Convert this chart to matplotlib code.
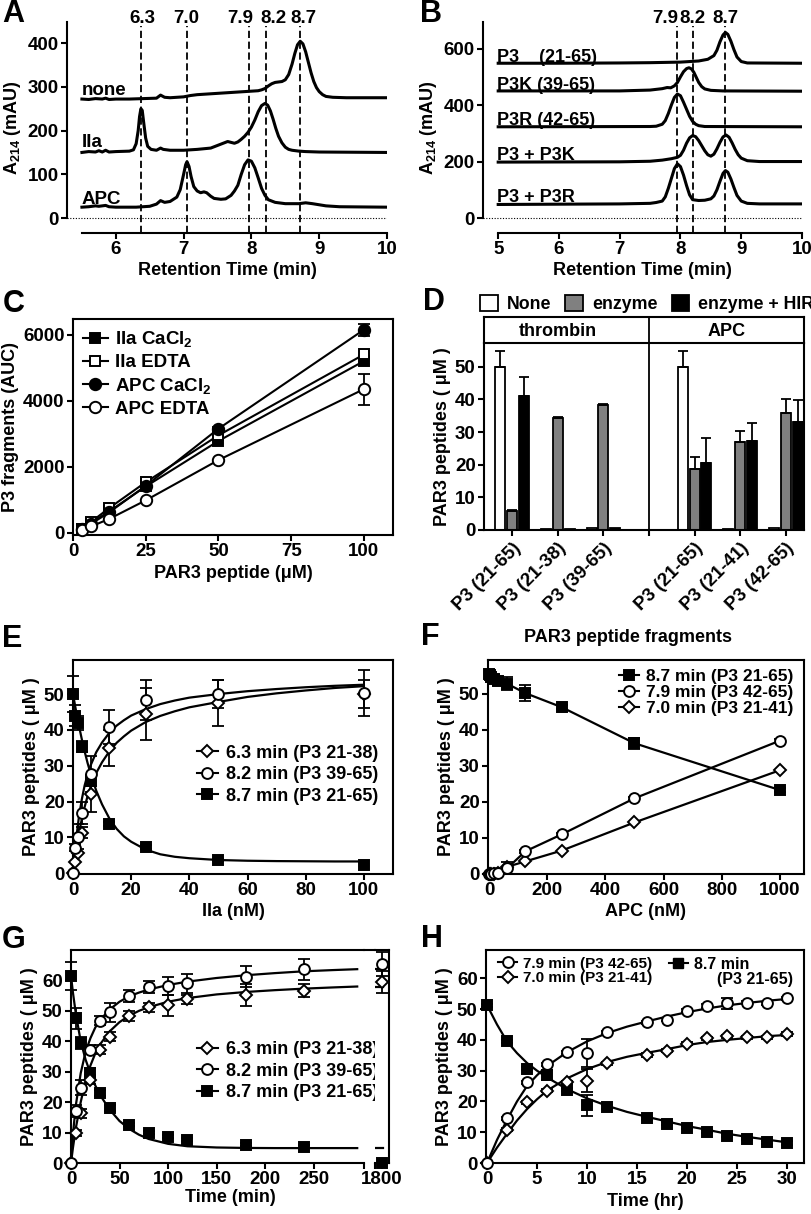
import matplotlib
matplotlib.use('Agg')
import matplotlib.pyplot as plt
from matplotlib.lines import Line2D
from matplotlib.patches import Patch
import numpy as np

plt.rcParams['font.family'] = ['Liberation Sans', 'DejaVu Sans']
plt.rcParams['font.weight'] = 'bold'
plt.rcParams['axes.labelweight'] = 'bold'
plt.rcParams['mathtext.fontset'] = 'custom'
plt.rcParams['mathtext.rm'] = 'Liberation Sans:bold'
plt.rcParams['mathtext.bf'] = 'Liberation Sans:bold'
plt.rcParams['mathtext.it'] = 'Liberation Sans:bold'
plt.rcParams['font.size'] = 12
plt.rcParams['axes.labelsize'] = 13
plt.rcParams['xtick.labelsize'] = 13.5
plt.rcParams['ytick.labelsize'] = 13.5
plt.rcParams['axes.linewidth'] = 1.5
plt.rcParams['xtick.major.width'] = 1.5
plt.rcParams['ytick.major.width'] = 1.5
plt.rcParams['xtick.major.size'] = 4
plt.rcParams['ytick.major.size'] = 4
plt.rcParams['xtick.major.pad'] = 2
plt.rcParams['ytick.major.pad'] = 2
plt.rcParams['axes.labelpad'] = 3

# ---------------- data ----------------
# A: HPLC traces (retention time min, A214 mAU)
a_none = [(5.5,272),(5.6,271),(5.7,273),(5.8,272),(5.85,274),(5.9,271),(6.0,272),(6.2,272),(6.4,273),
          (6.6,274),(6.66,281),(6.72,276),(6.8,275),(7.0,277),(7.1,280),(7.2,282),(7.4,284),(7.6,286),
          (7.8,288),(8.0,290),(8.1,291),(8.15,293),(8.2,296),(8.25,302),(8.3,307),(8.35,310),(8.4,311),
          (8.45,312),(8.5,316),(8.55,328),(8.6,352),(8.64,376),(8.68,396),(8.72,404),(8.76,398),(8.8,380),
          (8.84,356),(8.88,332),(8.92,312),(8.96,298),(9.0,289),(9.05,282),(9.1,278),(9.2,276),(9.4,275),(10.0,275)]
a_iia = [(5.5,150),(5.6,152),(5.7,151),(5.75,154),(5.8,151),(5.85,155),(5.9,151),(6.0,152),(6.2,153),
         (6.26,156),(6.3,170),(6.33,200),(6.35,232),(6.37,250),(6.39,246),(6.41,220),(6.44,183),(6.47,164),
         (6.52,157),(6.6,155),(6.66,160),(6.7,157),(6.8,155),(7.0,155),(7.2,157),(7.4,160),(7.5,166),
         (7.6,172),(7.65,175),(7.7,173),(7.75,171),(7.8,174),(7.85,180),(7.9,187),(7.95,196),(8.0,208),
         (8.05,224),(8.1,243),(8.15,257),(8.2,262),(8.24,258),(8.28,245),(8.32,226),(8.36,205),(8.4,187),
         (8.45,172),(8.5,162),(8.55,157),(8.6,155),(8.7,153),(8.8,152),(9.0,151),(10.0,150)]
a_apc = [(5.5,25),(5.6,26),(5.7,28),(5.75,27),(5.85,29),(5.9,26),(6.0,25),(6.3,25),(6.5,27),(6.6,32),
         (6.66,40),(6.72,36),(6.8,38),(6.9,48),(6.95,65),(7.0,100),(7.03,122),(7.05,129),(7.08,118),
         (7.11,95),(7.15,72),(7.2,62),(7.25,58),(7.3,60),(7.34,58),(7.4,50),(7.45,45),(7.55,43),(7.62,44),
         (7.7,52),(7.75,62),(7.8,75),(7.85,100),(7.9,122),(7.95,133),(8.0,130),(8.05,115),(8.1,92),
         (8.15,68),(8.2,52),(8.25,42),(8.35,36),(8.5,33),(8.7,33),(8.8,35),(8.9,33),(9.1,28),(9.3,26),(10.0,25)]
a_peaks = [6.37, 7.05, 7.96, 8.22, 8.72]
a_peak_labels = ['6.3', '7.0', '7.9', '8.2', '8.7']

# B: reference peptide traces
b_p3 = [(5.0,548),(6.0,548),(7.0,549),(7.5,550),(8.0,552),(8.3,556),(8.45,562),(8.55,575),(8.6,594),
        (8.65,624),(8.7,648),(8.74,657),(8.78,650),(8.83,626),(8.88,596),(8.93,570),(9.0,554),(9.1,549),(10.0,548)]
b_p3k = [(5.0,450),(7.0,450),(7.5,453),(7.7,458),(7.78,462),(7.84,461),(7.9,468),(7.95,480),(8.0,500),
         (8.05,518),(8.1,529),(8.14,532),(8.18,528),(8.22,516),(8.26,498),(8.3,480),(8.35,465),(8.4,457),
         (8.5,452),(8.7,450),(10.0,449)]
b_p3r = [(5.0,323),(7.5,324),(7.6,325),(7.7,332),(7.75,345),(7.8,370),(7.85,400),(7.9,427),(7.95,439),
         (8.0,433),(8.05,410),(8.1,385),(8.15,360),(8.2,342),(8.25,332),(8.3,327),(8.4,324),(10.0,323)]
b_mix_k = [(5.0,198),(7.0,199),(7.5,201),(7.7,205),(7.85,210),(7.95,215),(8.0,222),(8.05,240),(8.1,265),
           (8.15,284),(8.2,292),(8.25,288),(8.3,274),(8.35,256),(8.4,238),(8.45,224),(8.5,219),(8.55,226),
           (8.6,245),(8.65,268),(8.7,287),(8.75,294),(8.8,286),(8.85,266),(8.9,243),(8.95,224),(9.0,212),
           (9.1,203),(9.3,200),(10.0,200)]
b_mix_r = [(5.0,48),(7.0,50),(7.5,52),(7.6,55),(7.7,60),(7.75,75),(7.8,105),(7.85,140),(7.9,175),
           (7.95,192),(8.0,182),(8.05,152),(8.1,115),(8.15,82),(8.2,65),(8.3,62),(8.4,63),(8.5,68),
           (8.55,78),(8.6,100),(8.65,130),(8.7,158),(8.74,168),(8.78,162),(8.83,138),(8.88,108),(8.93,80),
           (9.0,60),(9.1,52),(9.3,50),(10.0,50)]
b_peaks = [7.95, 8.20, 8.74]
b_peak_labels = ['7.9', '8.2', '8.7']

# C: AUC vs peptide concentration
c_x = [3.125, 6.25, 12.5, 25, 50, 100]
c_iia_ca = [120, 300, 650, 1400, 2780, 5200]
c_iia_edta = [110, 330, 750, 1530, 2950, 5400]
c_apc_ca = [100, 270, 620, 1420, 3150, 6150]
c_apc_ca_err = [0, 0, 0, 0, 60, 180]
c_apc_edta = [80, 190, 420, 980, 2200, 4350]
c_apc_edta_err = [0, 0, 0, 0, 0, 470]

# D: bars
d_labels = ['P3 (21-65)', 'P3 (21-38)', 'P3 (39-65)', 'P3 (21-65)', 'P3 (21-41)', 'P3 (42-65)']
d_none = [50, 0.4, 0.5, 50, 0.3, 0.6]
d_none_err = [5, 0, 0, 5, 0, 0]
d_enz = [5.8, 34.3, 38.3, 18.8, 27.0, 35.7]
d_enz_err = [0.3, 0.3, 0.4, 3.5, 3.2, 4.5]
d_hir = [41, 0.4, 0.5, 20.6, 27.4, 33.2]
d_hir_err = [6, 0, 0, 7.6, 5.3, 6.5]

# E: IIa titration
e_x = [0, 0.78, 1.56, 3.125, 6.25, 12.5, 25, 50, 100]
e_dia = [0, 3.2, 5.6, 11.3, 22, 35, 44.5, 47.5, 50]
e_dia_err = [0, 0, 0, 1.5, 5, 5, 7.3, 6.4, 4]
e_cir = [0, 7.1, 10.2, 16.8, 27.8, 40.8, 48.3, 50, 50.2]
e_cir_err = [0, 1, 3.5, 3, 5, 4.7, 5.6, 3.9, 6.4]
e_sq = [50, 44, 42, 35.3, 25.8, 13.7, 7.3, 3.7, 2.3]
e_sq_err = [5, 3, 2, 1.5, 1.5, 0.5, 0.5, 0.3, 0]
e_fit_x = [0, 1, 2, 3, 4, 5, 6, 8, 10, 12.5, 15, 17.5, 20, 25, 30, 35, 40, 50, 60, 70, 80, 90, 100]
e_fit_cir = [0, 9, 15.5, 20.5, 24.5, 27.5, 30, 33.8, 36.5, 39.2, 41.2, 42.7, 44, 45.8, 47.2, 48.2, 49,
             50, 50.8, 51.4, 51.9, 52.3, 52.6]
e_fit_dia = [0, 6, 11, 15, 18.5, 21.5, 24, 28, 31, 34, 36.4, 38.2, 39.8, 42.2, 43.9, 45.2, 46.3,
             47.8, 49.2, 50.2, 51.0, 51.7, 52.2]
e_fit_sq = [50, 45.5, 41.3, 37.5, 34, 30.8, 28, 23, 19.2, 15.3, 12.4, 10.3, 8.8, 6.6, 5.3, 4.6, 4.2,
            3.7, 3.5, 3.4, 3.35, 3.3, 3.3]

# F: APC titration
f_x = [0, 3.9, 7.8, 15.6, 31.25, 62.5, 125, 250, 500, 1000]
f_sq = [55.5, 55.2, 54.8, 54.2, 53.5, 52.8, 50.2, 46.3, 36.3, 23.3]
f_sq_err = [0, 0.8, 0.8, 1, 1, 1.8, 2.2, 0.5, 1.5, 0.5]
f_cir = [0, 0, 0, 0.2, 0.3, 1.6, 6.3, 11, 21, 37]
f_cir_err = [0, 0, 0, 0, 0.5, 1.7, 0.5, 0.5, 0.5, 0.5]
f_dia = [0, 0, 0, 0.1, 0.4, 2, 3.5, 6.5, 14.3, 28.8]
f_dia_err = [0, 0, 0, 0, 0, 0, 0, 0, 0, 0]

# G: IIa time course (min)
g_t = [0, 5, 10, 20, 30, 40, 60, 80, 100, 120, 180, 240]
g_dia = [0, 9.8, 16.4, 27.3, 37.2, 41.5, 48.3, 51.2, 51.8, 53.8, 55.2, 56.6]
g_dia_err = [0, 1, 1.5, 1.5, 1.5, 1.5, 1.5, 1.5, 3.5, 1.5, 3.5, 2.2]
g_cir = [0, 17, 24.7, 37.2, 46.8, 49.5, 55, 57.8, 58.2, 59, 61.2, 63.6]
g_cir_err = [0, 2, 2.5, 1.5, 1.5, 3, 2, 2, 3, 3, 3.5, 3.5]
g_sq = [61.5, 47.5, 39.5, 29.6, 23, 18.1, 12.6, 9.9, 8.6, 7.7, 6.0, 5.3]
g_sq_err = [4.5, 3.5, 2, 1.5, 1, 1, 0.5, 0.5, 0.5, 0.5, 0.5, 0.5]
g_end_t = [1800]
g_end_dia = [59.5]
g_end_dia_err = [3.5]
g_end_cir = [65.5]
g_end_cir_err = [4]
g_end_sq = [0]
g_fit_t = [0, 2, 5, 10, 15, 20, 25, 30, 40, 50, 60, 70, 80, 100, 120, 150, 180, 210, 240, 270, 295]
g_fit_cir = [0, 9.5, 19, 29.5, 36.5, 41, 44.5, 47, 50.5, 53, 54.8, 56, 57, 58.5, 59.6, 60.8, 61.7,
             62.4, 63, 63.4, 63.7]
g_fit_dia = [0, 5, 11.5, 20, 27, 32, 36, 39, 43.3, 46.3, 48.4, 50, 51.2, 53, 54.2, 55.4, 56.2, 56.8,
             57.3, 57.7, 58]
g_fit_sq = [61.5, 56, 49, 40, 34, 29.5, 25.5, 22.3, 17.5, 13.8, 11.2, 9.3, 7.9, 6.3, 5.5, 5.1, 4.95,
            4.9, 4.9, 4.9, 4.9]

# H: APC time course (hr)
h_t = [0, 2, 4, 6, 8, 10, 12, 16, 18, 20, 22, 24, 26, 28, 30]
h_cir = [0, 14.6, 26.2, 32.1, 35.9, 35.7, 42.4, 45.7, 46.5, 49.5, 51.0, 51.9, 52.1, 51.9, 53.5]
h_cir_err = [0, 0.5, 0.5, 0.5, 0.5, 4.5, 0.5, 0.5, 0.5, 0.5, 0.5, 1.8, 0.5, 0.5, 0.5]
h_dia = [0, 10.8, 19.8, 23.5, 26.3, 26.8, 32.4, 35.1, 36.5, 38.7, 40.5, 41.1, 40.8, 40.8, 41.9]
h_dia_err = [0, 0.5, 0.5, 0.5, 0.5, 3.8, 0.5, 0.5, 0.5, 0.5, 0.5, 0.5, 0.5, 0.5, 0.5]
h_sq = [51.3, 39.5, 30.6, 28.6, 23.8, 18.7, 18.2, 14.6, 12.8, 11.4, 10.1, 8.9, 7.9, 6.8, 6.5]
h_sq_err = [0.5, 0.5, 0.5, 1.5, 0.5, 3.3, 0.5, 0.5, 0.5, 0.5, 0.5, 0.5, 0.5, 0.5, 0.5]
h_fit_t = [0, 1, 2, 3, 4, 5, 6, 8, 10, 12, 14, 16, 18, 20, 22, 24, 26, 28, 30]
h_fit_cir = [0, 7.5, 14, 20, 25, 28.5, 31.5, 36, 39.5, 42.2, 44.3, 46, 47.6, 49, 50.2, 51.2, 52, 52.7, 53.3]
h_fit_dia = [0, 5, 9.5, 13.8, 17.5, 20.7, 23.5, 27.5, 30.5, 32.8, 34.5, 35.8, 37, 38.3, 39.3, 40,
             40.6, 41.2, 41.6]
h_fit_sq = [51.3, 45, 39.5, 35.7, 32.5, 30, 27.8, 24, 21, 18.6, 16.6, 15, 13.5, 12, 10.8, 9.5, 8.5, 7.6, 6.7]

# ---------------- figure ----------------
W, H = 812, 1214
fig = plt.figure(figsize=(W / 100, H / 100), dpi=100)


def px_axes(l, t, r, b):
    return fig.add_axes([l / W, 1 - b / H, (r - l) / W, (b - t) / H])


def letter(x, y, s):
    fig.text(x / W, 1 - y / H, s, fontsize=22, fontweight='bold', va='baseline', ha='left')


def points(ax, x, y, err, marker, face, ms):
    x = np.asarray(x, float)
    y = np.asarray(y, float)
    err = np.asarray(err, float)
    m = err > 0
    if m.any():
        ax.errorbar(x[m], y[m], yerr=err[m], fmt='none', ecolor='k', elinewidth=1.3,
                    capsize=4, capthick=1.3, clip_on=False, zorder=3)
    ax.plot(x, y, ls='none', marker=marker, mfc=face, mec='k', mew=1.4, ms=ms,
            clip_on=False, zorder=4)


MS = {'o': 7.8, 's': 7.4, 'D': 5.8}

# ---- A ----
ax = px_axes(67, 22, 387, 233)
ax.set_xlim(5.28, 10)
ax.set_ylim(-34, 448)
for tr in (a_none, a_iia, a_apc):
    t, a = zip(*tr)
    ax.plot(t, a, color='k', lw=2.2)
ax.axhline(0, color='k', lw=0.8, ls=(0, (1, 1.5)), xmin=0)
ax.vlines(a_peaks, -34, 440, colors='k', linestyles=(0, (4, 2)), lw=1.3)
a_lab_x = [6.39, 7.04, 7.83, 8.32, 8.77]
for xx, s in zip(a_lab_x, a_peak_labels):
    ax.text(xx, 446, s, ha='center', va='baseline', fontsize=13.5, clip_on=False)
ax.text(5.5, 281, 'none', fontsize=13.5, va='baseline')
ax.text(5.5, 163, 'IIa', fontsize=13.5, va='baseline')
ax.text(5.5, 33, 'APC', fontsize=13.5, va='baseline')
ax.spines[['top', 'right']].set_visible(False)
ax.spines['bottom'].set_bounds(5.5, 10)
ax.spines['left'].set_bounds(0, 448)
ax.set_xticks([6, 7, 8, 9, 10])
ax.set_yticks([0, 100, 200, 300, 400])
ax.set_xlabel('Retention Time (min)')
ax.set_ylabel('A$_{214}$ (mAU)')
letter(2, 22, 'A')

# ---- B ----
ax = px_axes(483, 22, 802, 233)
ax.set_xlim(4.75, 10)
ax.set_ylim(-53, 694)
for tr in (b_p3, b_p3k, b_p3r, b_mix_k, b_mix_r):
    t, a = zip(*tr)
    ax.plot(t, a, color='k', lw=2.2)
ax.axhline(0, color='k', lw=0.8, ls=(0, (1, 1.5)))
ax.vlines(b_peaks, -53, 680, colors='k', linestyles=(0, (4, 2)), lw=1.3)
b_lab_x = [7.75, 8.2, 8.74]
for xx, s in zip(b_lab_x, b_peak_labels):
    ax.text(xx, 692, s, ha='center', va='baseline', fontsize=13.5, clip_on=False)
ax.text(4.98, 553, 'P3    (21-65)', fontsize=13, va='baseline')
ax.text(4.98, 455, 'P3K (39-65)', fontsize=13, va='baseline')
ax.text(4.98, 328, 'P3R (42-65)', fontsize=13, va='baseline')
ax.text(4.98, 204, 'P3 + P3K', fontsize=13, va='baseline')
ax.text(4.98, 55, 'P3 + P3R', fontsize=13, va='baseline')
ax.spines[['top', 'right']].set_visible(False)
ax.spines['bottom'].set_bounds(5, 10)
ax.spines['left'].set_bounds(0, 694)
ax.set_xticks([5, 6, 7, 8, 9, 10])
ax.set_yticks([0, 200, 400, 600])
ax.set_xlabel('Retention Time (min)')
ax.set_ylabel('A$_{214}$ (mAU)')
letter(420, 22, 'B')

# ---- C ----
ax = px_axes(73, 319, 393, 535)
ax.set_xlim(0, 110)
ax.set_ylim(-70, 6475)
series_c = [(c_iia_ca, [0] * 6, 's', 'k', 'IIa CaCl$_2$'),
            (c_iia_edta, [0] * 6, 's', 'w', 'IIa EDTA'),
            (c_apc_ca, c_apc_ca_err, 'o', 'k', 'APC CaCl$_2$'),
            (c_apc_edta, c_apc_edta_err, 'o', 'w', 'APC EDTA')]
handles = []
for yv, er, mk, fc, lab in series_c:
    ax.plot(c_x, yv, color='k', lw=1.5, zorder=2)
    points(ax, c_x, yv, er, mk, fc, 8.2 if mk == 'o' else 7.8)
    handles.append(Line2D([], [], color='k', lw=1.5, marker=mk, mfc=fc, mec='k', mew=1.4,
                          ms=8.2 if mk == 'o' else 7.8))
ax.legend(handles, [s[4] for s in series_c], loc='upper left', frameon=False, fontsize=13.5,
          handlelength=1.3, handletextpad=0.4, labelspacing=0.25, borderaxespad=0.15,
          bbox_to_anchor=(0.0, 1.0))
ax.set_xticks([0, 25, 50, 75, 100])
ax.set_yticks([0, 2000, 4000, 6000])
ax.set_xlabel('PAR3 peptide (\u03bcM)')
ax.set_ylabel('P3 fragments (AUC)')
letter(3, 312, 'C')

# ---- D ----
ax = px_axes(484, 343, 804, 530)
hd = px_axes(484, 317, 804, 343)
pos = np.array([0, 1, 2, 4, 5, 6])
bw, off = 0.22, 0.26
for vals, errs, col, dx in ((d_none, d_none_err, 'white', -off),
                             (d_enz, d_enz_err, '#808080', 0.0),
                             (d_hir, d_hir_err, 'black', off)):
    ax.bar(pos + dx, vals, width=bw, color=col, edgecolor='k', lw=1.3, zorder=2)
    e = np.array(errs, float)
    m = e > 0
    ax.errorbar((pos + dx)[m], np.array(vals)[m], yerr=[np.zeros(m.sum()), e[m]], fmt='none',
                ecolor='k', elinewidth=1.3, capsize=3.5, capthick=1.3, zorder=3)
ax.set_xlim(-0.62, 6.4)
ax.set_ylim(0, 57.3)
ax.axvline(3, color='k', lw=1.3)
ax.set_xticks([0, 1, 2, 3, 4, 5, 6])
ax.set_xticklabels(d_labels[:3] + [''] + d_labels[3:], rotation=45, ha='right',
                   rotation_mode='anchor', fontsize=13.5)
ax.tick_params(axis='x', pad=3)
ax.set_yticks([0, 10, 20, 30, 40, 50])
ax.spines['top'].set_visible(False)
ax.set_ylabel('PAR3 peptides ( \u03bcM )')
hd.set_xlim(-0.62, 6.4)
hd.set_ylim(0, 1)
hd.axvline(3, color='k', lw=1.3)
hd.set_xticks([])
hd.set_yticks([])
hd.text(1.0, 0.45, 'thrombin', ha='center', va='center', fontsize=13)
hd.text(4.7, 0.45, 'APC', ha='center', va='center', fontsize=13)
d_handles = [Patch(facecolor=c, edgecolor='k', lw=1.3) for c in ('white', '#808080', 'black')]
fig.legend(d_handles, ['None', 'enzyme', 'enzyme + HIR'], loc='center',
           bbox_to_anchor=(647 / W, 1 - 304 / H), ncol=3, frameon=False, fontsize=12.8,
           handlelength=1.0, handleheight=1.0, handletextpad=0.5, columnspacing=0.8)
letter(423, 310, 'D')

# ---- E ----
ax = px_axes(73, 660, 393, 874)
ax.set_xlim(0, 110)
ax.set_ylim(-0.2, 59.5)
ax.plot(e_fit_x, e_fit_cir, color='k', lw=1.6, zorder=2)
ax.plot(e_fit_x, e_fit_dia, color='k', lw=1.6, zorder=2)
ax.plot(e_fit_x, e_fit_sq, color='k', lw=1.6, zorder=2)
points(ax, e_x, e_sq, e_sq_err, 's', 'k', MS['s'])
points(ax, e_x, e_dia, e_dia_err, 'D', 'w', MS['D'])
points(ax, e_x, e_cir, e_cir_err, 'o', 'w', MS['o'])
leg_lab = ['6.3 min (P3 21-38)', '8.2 min (P3 39-65)', '8.7 min (P3 21-65)']
leg_h = [Line2D([], [], color='k', lw=1.5, marker=m, mfc=f, mec='k', mew=1.4, ms=MS[m])
         for m, f in (('D', 'w'), ('o', 'w'), ('s', 'k'))]
ax.legend(leg_h, leg_lab, loc='lower right', bbox_to_anchor=(0.975, 0.29), frameon=False,
          fontsize=13, handlelength=1.2, handletextpad=0.4, labelspacing=0.25, borderaxespad=0)
ax.set_xticks([0, 20, 40, 60, 80, 100])
ax.set_yticks([0, 10, 20, 30, 40, 50])
ax.set_xlabel('IIa (nM)')
ax.set_ylabel('PAR3 peptides ( \u03bcM )')
letter(2, 647, 'E')

# ---- F ----
ax = px_axes(488, 660, 804, 874)
ax.set_xlim(-3.5, 1083)
ax.set_ylim(0, 59.4)
ax.plot(f_x, f_sq, color='k', lw=1.6, zorder=2)
ax.plot(f_x, f_cir, color='k', lw=1.6, zorder=2)
ax.plot(f_x, f_dia, color='k', lw=1.6, zorder=2)
points(ax, f_x, f_sq, f_sq_err, 's', 'k', MS['s'])
points(ax, f_x, f_dia, f_dia_err, 'D', 'w', MS['D'])
points(ax, f_x, f_cir, f_cir_err, 'o', 'w', MS['o'])
f_h = [Line2D([], [], color='k', lw=1.5, marker=m, mfc=f, mec='k', mew=1.4, ms=MS[m])
       for m, f in (('s', 'k'), ('o', 'w'), ('D', 'w'))]
ax.legend(f_h, ['8.7 min (P3 21-65)', '7.9 min (P3 42-65)', '7.0 min (P3 21-41)'],
          loc='upper right', bbox_to_anchor=(0.995, 1.0), frameon=False, fontsize=12.5,
          handlelength=1.2, handletextpad=0.4, labelspacing=0.05, borderaxespad=0.1)
ax.set_xticks([0, 200, 400, 600, 800, 1000])
ax.set_yticks([0, 10, 20, 30, 40, 50])
ax.set_xlabel('APC (nM)')
ax.set_ylabel('PAR3 peptides ( \u03bcM )')
fig.text(628 / W, 1 - 638 / H, 'PAR3 peptide fragments', ha='center', va='center', fontsize=13)
letter(421, 645, 'F')

# ---- G (broken x axis) ----
ax = px_axes(71, 950, 364, 1163)
axb = px_axes(375, 950, 389, 1163)
ax.set_xlim(0, 302)
ax.set_ylim(0, 70)
axb.set_xlim(1793, 1807)
axb.set_ylim(0, 70)
ax.plot(g_fit_t, g_fit_cir, color='k', lw=1.6, zorder=2)
ax.plot(g_fit_t, g_fit_dia, color='k', lw=1.6, zorder=2)
ax.plot(g_fit_t, g_fit_sq, color='k', lw=1.6, zorder=2)
points(ax, g_t, g_sq, g_sq_err, 's', 'k', MS['s'])
points(ax, g_t, g_dia, g_dia_err, 'D', 'w', MS['D'])
points(ax, g_t, g_cir, g_cir_err, 'o', 'w', MS['o'])
for yv in (g_fit_cir[-1], g_fit_dia[-1], g_fit_sq[-1]):
    axb.plot([1793, 1801], [yv, yv], color='k', lw=1.6, zorder=2)
points(axb, g_end_t, g_end_dia, g_end_dia_err, 'D', 'w', MS['D'])
points(axb, g_end_t, g_end_cir, g_end_cir_err, 'o', 'w', MS['o'])
points(axb, g_end_t, g_end_sq, [0], 's', 'k', MS['s'])
ax.spines['right'].set_visible(False)
axb.spines['left'].set_visible(False)
ax.set_xticks([0, 50, 100, 150, 200, 250, 302])
ax.set_xticklabels(['0', '50', '100', '150', '200', '250', ''])
ax.set_yticks([0, 10, 20, 30, 40, 50, 60])
axb.set_xticks([1793, 1800])
axb.set_xticklabels(['', '1800'])
axb.set_yticks([])
fig.add_artist(Line2D([364 / W, 375 / W], [1 - 950 / H, 1 - 950 / H], color='k', lw=1.5))
ax.set_ylabel('PAR3 peptides ( \u03bcM )')
fig.text(230 / W, 1 - 1198 / H, 'Time (min)', ha='center', va='center', fontsize=13)
ax.legend(leg_h, leg_lab, loc='center right', bbox_to_anchor=(385 / W, 1 - 1071 / H),
          bbox_transform=fig.transFigure, frameon=False, fontsize=13,
          handlelength=1.2, handletextpad=0.4, labelspacing=0.25, borderaxespad=0)
letter(2, 948, 'G')

# ---- H ----
ax = px_axes(486, 950, 804, 1163)
ax.set_xlim(-0.1, 31.7)
ax.set_ylim(0, 69.2)
ax.plot(h_fit_t, h_fit_cir, color='k', lw=1.6, zorder=2)
ax.plot(h_fit_t, h_fit_dia, color='k', lw=1.6, zorder=2)
ax.plot(h_fit_t, h_fit_sq, color='k', lw=1.6, zorder=2)
points(ax, h_t, h_sq, h_sq_err, 's', 'k', MS['s'])
points(ax, h_t, h_dia, h_dia_err, 'D', 'w', MS['D'])
points(ax, h_t, h_cir, h_cir_err, 'o', 'w', MS['o'])
h1 = [Line2D([], [], color='k', lw=1.5, marker=m, mfc=f, mec='k', mew=1.4, ms=MS[m])
      for m, f in (('o', 'w'), ('D', 'w'))]
l1 = ax.legend(h1, ['7.9 min (P3 42-65)', '7.0 min (P3 21-41)'], loc='upper left',
               bbox_to_anchor=(0.015, 1.005), frameon=False, fontsize=11, handlelength=1.2,
               handletextpad=0.4, labelspacing=0.05, borderaxespad=0.1)
ax.add_artist(l1)
h2 = [Line2D([], [], color='k', lw=1.5, marker='s', mfc='k', mec='k', ms=MS['s'])]
ax.legend(h2, ['8.7 min'], loc='upper left', bbox_to_anchor=(0.55, 1.005), frameon=False,
          fontsize=11.5, handlelength=1.2, handletextpad=0.4, borderaxespad=0.1)
ax.text(0.965, 0.862, '(P3 21-65)', transform=ax.transAxes, ha='right', va='center', fontsize=11.5)
ax.set_xticks([0, 5, 10, 15, 20, 25, 30])
ax.set_yticks([0, 10, 20, 30, 40, 50, 60])
ax.set_xlabel('Time (hr)')
ax.set_ylabel('PAR3 peptides ( \u03bcM )')
letter(421, 947, 'H')

fig.savefig('out.png', dpi=100)
